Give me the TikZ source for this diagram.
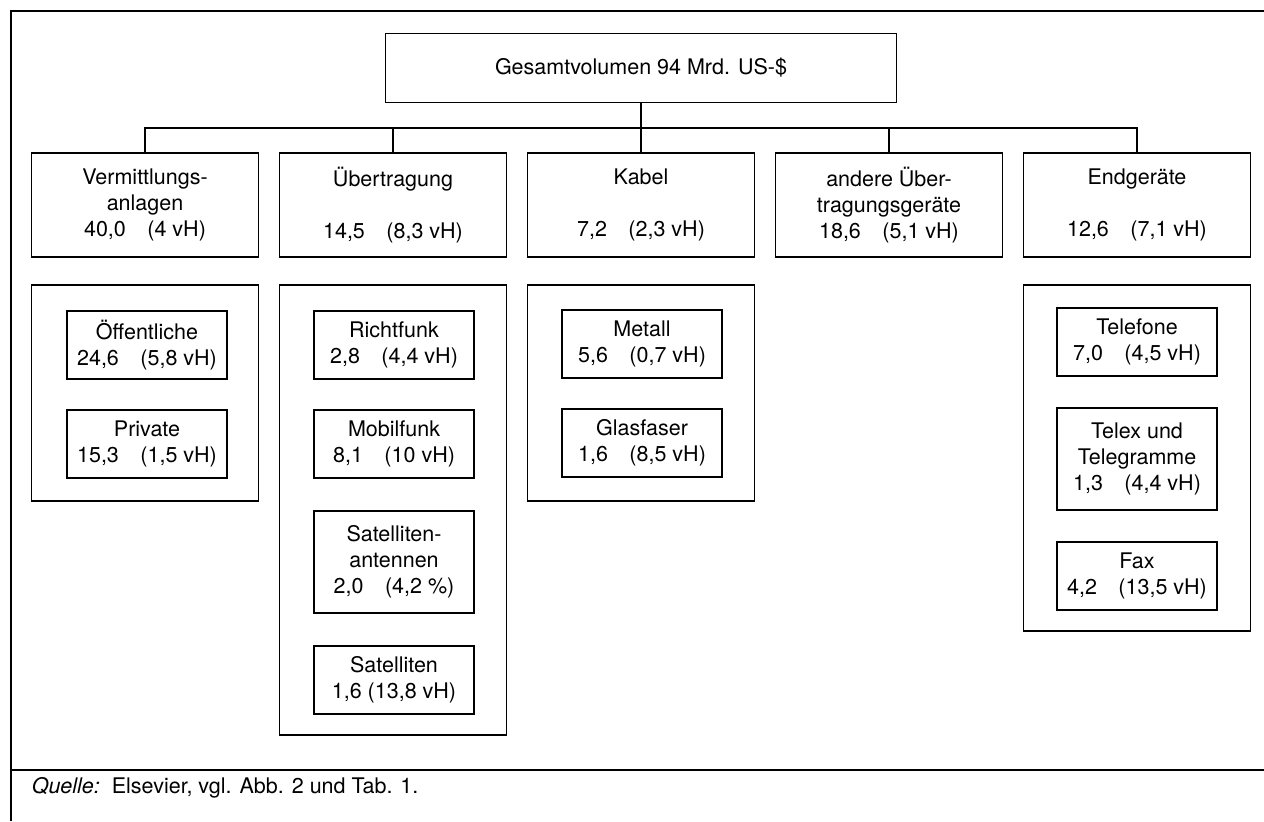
\documentclass[tikz,border=0pt]{standalone}
\usepackage{fontspec}
\setmainfont{TeX Gyre Heros}
\begin{document}
\begin{tikzpicture}
    [
        x=0.5pt, y=-0.5pt,
        line width=0.8pt,
        every node/.style={font=\fontsize{10.75}{13}\selectfont},
        box/.style={draw, align=center, inner sep=0pt},
        head/.style={box, minimum width=113.5pt, minimum height=52pt},
        group/.style={draw, inner sep=0pt, minimum width=113.5pt},
        item/.style={box, minimum width=80pt, minimum height=34pt},
        tallitem/.style={item, minimum height=51pt},
        edge/.style={line width=0.8pt},
    ]

    \useasboundingbox (0,0) rectangle (1264,821);

    % frame
    \draw (11,821) -- (11,11) -- (1264,11);
    \draw (11,770) -- (1264,770);

    % total
    \node (total) at (641,68) [box, minimum width=255.5pt, minimum height=34.5pt] {Gesamtvolumen 94 Mrd. US-\$};

    % main groups
    \node (verm)   at (145,205)  [head] {Vermittlungs-\\anlagen\\40,0\quad(4 vH)};
    \node (uebt)   at (393,205)  [head] {Übertragung\\ \mbox{}\\14,5\quad(8,3 vH)};
    \node (kabel)  at (641,205)  [head] {Kabel\\ \mbox{}\\7,2\quad(2,3 vH)};
    \node (andere) at (889,205)  [head] {andere Über-\\tragungsgeräte\\18,6\quad(5,1 vH)};
    \node (endg)   at (1137,205) [head] {Endgeräte\\ \mbox{}\\12,6\quad(7,1 vH)};

    \coordinate (bus) at (641,128);

    % sub groups
    \node (vermgrp)  at (145,393)  [group, minimum height=108pt] {};
    \node (uebtgrp)  at (393,510)  [group, minimum height=225pt] {};
    \node (kabelgrp) at (641,393)  [group, minimum height=108pt] {};
    \node (endggrp)  at (1137,458) [group, minimum height=173pt] {};

    \node (oeff)   at (147,345)  [item] {Öffentliche\\24,6\quad(5,8 vH)};
    \node (priv)   at (147,444)  [item] {Private\\15,3\quad(1,5 vH)};

    \node (richt)  at (394,345)  [item] {Richtfunk\\2,8\quad(4,4 vH)};
    \node (mobil)  at (394,444)  [item] {Mobilfunk\\8,1\quad(10 vH)};
    \node (satant) at (394,562)  [tallitem] {Satelliten-\\antennen\\2,0\quad(4,2 \%)};
    \node (sat)    at (394,680)  [item] {Satelliten\\1,6 (13,8 vH)};

    \node (metall) at (642,344)  [item] {Metall\\5,6\quad(0,7 vH)};
    \node (glas)   at (642,443)  [item] {Glasfaser\\1,6\quad(8,5 vH)};

    \node (telef)  at (1137,342) [item] {Telefone\\7,0\quad(4,5 vH)};
    \node (telex)  at (1137,459) [tallitem] {Telex und\\Telegramme\\1,3\quad(4,4 vH)};
    \node (fax)    at (1137,576) [item] {Fax\\4,2\quad(13,5 vH)};

    % source
    \node (quelle) at (31,788) [anchor=west, inner sep=0pt] {\textit{Quelle:}\ \ Elsevier, vgl. Abb. 2 und Tab. 1.};

    \draw [edge] (total) -- (kabel);
    \draw [edge] (verm) |- (bus) -| (endg);
    \draw [edge] (uebt) -- (uebt |- bus);
    \draw [edge] (andere) -- (andere |- bus);

\end{tikzpicture}
\end{document}
